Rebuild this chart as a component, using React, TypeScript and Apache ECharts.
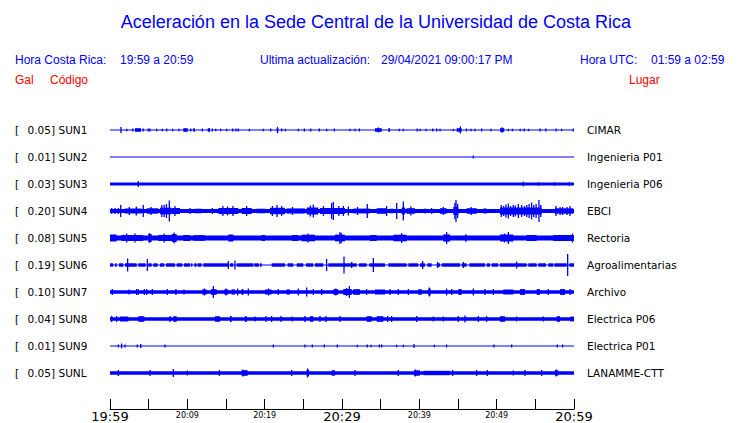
import React, { useEffect, useRef } from "react";
import * as echarts from "echarts";

// ---- data ----
const codes = ["SUN1", "SUN2", "SUN3", "SUN4", "SUN5", "SUN6", "SUN7", "SUN8", "SUN9", "SUNL"];
const peakGal = ["0.05", "0.01", "0.03", "0.20", "0.08", "0.19", "0.10", "0.04", "0.01", "0.05"];
const places = ["CIMAR", "Ingenieria P01", "Ingenieria P06", "EBCI", "Rectoria", "Agroalimentarias", "Archivo", "Electrica P06", "Electrica P01", "LANAMME-CTT"];
const tickLabels = ["19:59", "", "20:09", "", "20:19", "", "20:29", "", "20:39", "", "20:49", "", "20:59"];
const bigTicks = [0, 6, 12];

// background noise half-amplitude per trace
const noiseLevel = [0.6, 0.5, 1.5, 2.0, 2.5, 0.6, 1.8, 1.8, 0.5, 1.8];

// events: [startMinute, endMinute, halfAmplitude]
const sun1 = [[1.42,1.42,3],[2.16,2.16,1.2],[2.94,2.94,1.5],[3.23,4.0,1.8],[4.3,4.3,1.5],[4.95,4.95,1.5],[5.17,5.17,1.5],[6.04,6.04,1.2],[6.76,6.76,1.2],[7.33,7.33,1.5],[8.11,8.11,1.2],[8.92,8.92,1.2],[9.48,10.05,1.8],[10.44,10.44,1.5],[10.77,10.99,1.8],[11.94,11.94,1.5],[12.63,12.93,1.8],[13.23,13.23,1.5],[13.67,13.67,1.2],[14.32,14.32,1.2],[15.09,15.09,1.2],[15.87,15.87,1.5],[16.29,16.29,1.5],[16.59,16.59,1.5],[18.01,18.01,1.2],[19.82,19.82,1.2],[20.78,20.78,1.5],[21.56,21.76,2],[21.66,21.66,3.2],[22.2,22.2,1.5],[22.67,22.67,1.2],[24.35,24.35,1.2],[25.13,25.13,1.5],[25.95,25.95,1.5],[27.07,27.07,1.5],[28.02,28.02,1.2],[29.0,29.0,1.5],[31.04,31.04,1.2],[31.68,31.68,1.2],[32.25,32.25,1.5],[34.27,35.14,1.8],[34.7,34.7,2.5],[35.99,36.21,1.8],[37.4,37.4,1.2],[37.92,37.92,1.2],[39.73,39.73,1.5],[40.09,40.09,1.2],[40.86,40.86,1.2],[41.73,41.73,1.5],[42.25,42.25,1.5],[42.68,42.68,1.2],[44.4,44.4,1.2],[44.83,45.48,1.8],[45.3,45.3,3.5],[46.1,46.1,1.5],[46.68,46.68,1.2],[47.2,47.2,1.2],[48.07,48.07,1.5],[49.27,49.27,1.2],[50.45,50.97,1.9],[50.7,50.7,2.8],[51.52,51.52,1.2],[52.04,52.04,1.2],[53.04,53.04,1.2],[53.56,53.56,1.5],[54.12,54.12,1.2],[55.62,55.62,1.5],[56.36,56.36,1.5],[57.7,57.7,1.5],[58.4,58.4,1.2],[59.91,59.91,1.5]];
const sun2 = [[46.98,46.98,1.5]];
const sun3 = [[3.66,3.66,3],[53.45,53.45,2.2],[55.4,55.4,1.8],[57.5,57.5,1.8],[59.4,59.4,1.8]];
const sun4 = [[0.22,0.22,3],[0.65,0.65,3],[1.08,1.08,3],[1.38,1.38,6],[1.94,4.09,2.4],[2.5,2.5,4],[3.4,3.4,4.5],[4.3,4.3,6],[4.74,6.25,2.7],[5.3,5.3,4],[6.46,7.97,3.3],[6.7,6.7,6],[7.3,7.3,7],[7.67,7.67,10.5],[7.0,7.0,6],[7.97,9.05,3],[8.4,8.4,5],[10.34,10.34,3],[10.99,11.85,2.3],[13.23,13.23,3],[14.01,16.59,3],[14.6,14.6,5],[15.2,15.2,4.5],[15.9,15.9,5],[17.02,18.32,3],[17.67,17.67,5],[18.96,20.04,2.3],[20.69,22.63,3.2],[21.0,21.0,5],[21.6,21.6,6],[22.2,22.2,5],[22.84,25.21,2.6],[23.6,23.6,4],[25.43,26.94,3.5],[26.29,26.29,6.5],[25.9,25.9,5.5],[27.15,30.38,3],[27.6,27.6,5],[28.66,28.66,8],[28.88,28.88,9],[29.6,29.6,5],[30.17,30.17,5],[30.82,30.82,4.5],[31.46,33.62,2.4],[32.0,32.0,4],[33.27,33.27,7],[34.48,35.77,2.8],[35.77,35.77,5],[36.21,36.64,2.3],[37.07,37.07,8],[37.71,38.14,3.5],[37.93,37.93,9.5],[38.36,39.44,2.8],[38.9,38.9,4.5],[40.73,40.73,2.5],[41.59,41.59,3],[42.67,43.53,2.8],[43.1,43.1,4],[44.39,45.04,4],[44.6,44.6,8],[44.74,44.74,11],[44.95,44.95,7],[46.12,47.41,2.8],[46.7,46.7,4],[48.27,48.7,2.5],[50.43,55.82,3.5],[50.6,50.6,6],[50.9,50.9,5],[51.2,51.2,6.5],[51.51,51.51,7.5],[51.8,51.8,5],[52.15,52.15,6],[52.4,52.4,5.5],[52.8,52.8,7],[53.23,53.23,6],[53.6,53.6,5],[53.9,53.9,6],[54.2,54.2,7],[54.52,54.52,8.5],[54.8,54.8,6],[55.1,55.1,7],[55.47,55.47,11],[55.7,55.7,6],[57.54,59.91,2.7],[57.67,57.67,5],[58.2,58.2,4],[58.53,58.53,4],[59.1,59.1,4],[59.48,59.48,5]];
const sun5 = [[0,0.86,3.5],[1.5,4.31,3.0],[2.15,2.15,4.5],[3.23,3.23,4.5],[4.96,5.39,4],[5.1,5.1,5],[6.25,7.97,3.0],[7.0,7.0,4.5],[7.97,8.62,4],[8.3,8.3,5.5],[9.48,10.34,3.0],[10.77,12.28,2.8],[15.3,15.95,3.5],[19.61,20.04,3.0],[23.49,24.35,3.0],[24.78,26.51,3.3],[25.6,25.6,4.5],[29.09,30.38,3.4],[29.74,29.74,6],[29.9,29.9,5],[33.62,34.48,3.0],[36.64,38.36,3.3],[37.71,37.71,5],[43.1,43.96,3.6],[43.53,43.53,6],[45.9,46.12,3.6],[50.43,52.15,3.4],[51.51,51.51,6],[51.0,51.0,4.5],[53.88,55.17,3.0],[57.32,60,3.0],[59.8,59.8,4.5]];
const sun6 = [[0,0.43,1.7],[0.65,0.86,1.7],[1.16,1.72,1.7],[1.94,3.45,1.7],[3.66,4.61,1.7],[4.96,5.39,1.7],[5.6,6.16,1.7],[6.46,7.02,1.7],[7.24,8.4,1.7],[8.62,9.35,1.7],[9.57,10.34,1.7],[10.47,10.65,1.7],[10.9,11.21,1.7],[11.33,11.85,1.7],[12.07,15.3,1.7],[15.52,15.95,1.7],[16.38,18.53,1.7],[18.66,19.26,1.7],[19.39,19.61,1.7],[20.9,22.63,1.7],[22.97,23.7,1.7],[24.14,24.99,1.7],[25.34,26.29,1.7],[26.51,27.58,1.7],[28.23,29.74,1.7],[29.74,31.9,1.7],[32.2,33.19,1.7],[33.53,35.56,1.7],[35.99,38.36,1.7],[38.58,39.87,1.7],[40.08,40.73,1.7],[41.03,41.59,1.7],[42.24,42.67,1.7],[42.89,45.26,1.7],[45.47,46.12,1.7],[46.46,48.49,1.7],[48.7,49.14,1.7],[49.35,50.21,1.7],[50.43,53.88,1.7],[54.09,55.17,1.7],[55.38,56.38,1.7],[56.68,57.32,1.7],[57.45,59.05,1.7],[59.39,60,1.7],[2.28,2.28,6.5],[4.83,4.83,6],[15.3,15.3,4],[16.16,16.16,4.5],[28.01,28.01,6],[30.26,30.26,8.5],[31.25,31.25,3],[34.05,34.05,7],[40.43,40.43,4],[42.37,42.37,3],[45.69,45.69,3],[52.58,52.58,3.5],[59.18,59.18,11]];
const sun7 = [[0.3,0.3,3],[2.45,2.45,2.5],[3.45,3.45,3],[3.66,3.66,3],[4.44,4.44,3],[4.74,4.74,3],[5.47,5.47,3],[7.41,7.41,3],[8.53,8.53,3],[9.57,9.57,2.5],[11.94,12.5,2.6],[12.2,12.2,3.5],[13.06,13.79,2.8],[13.36,13.36,6],[14.78,15.3,2.6],[15.0,15.0,3.5],[15.73,16.16,2.6],[16.5,16.5,3.5],[17.02,17.24,3.0],[17.89,17.89,3.5],[20.04,20.9,2.5],[20.5,20.5,3.5],[21.76,21.76,3],[22.84,23.27,2.6],[24.35,24.35,3.5],[25.43,25.43,4.5],[26.29,26.29,3],[27.37,27.37,3],[28.88,29.52,2.8],[29.2,29.2,3.5],[30.17,31.25,3.0],[30.95,30.95,6],[30.6,30.6,4],[31.46,32.33,2.8],[33.19,33.19,3],[34.27,35.56,2.5],[36.21,36.21,3],[37.28,37.28,3],[38.58,38.58,3],[39.87,40.3,2.8],[41.16,41.46,3.5],[41.3,41.3,4.5],[43.53,43.53,3.5],[44.18,44.18,3],[45.04,45.47,2.9],[46.98,46.98,3.5],[48.49,48.49,3],[49.57,49.57,3],[50.86,52.15,2.5],[53.01,53.66,2.9],[55.17,55.6,2.9],[56.68,56.68,3],[58.19,58.83,2.9],[59.48,59.48,3]];
const sun8 = [[0.22,0.22,3],[0.86,0.86,3],[1.29,2.37,2.6],[3.66,4.44,2.8],[7.76,7.76,3],[8.19,8.62,2.8],[13.58,14.22,2.8],[15.52,15.73,3],[17.45,17.67,3.0],[18.75,18.75,2.5],[20.17,20.17,3],[20.9,20.9,3],[22.11,22.11,3],[23.58,23.58,2.5],[25.21,25.21,3],[25.86,26.29,2.8],[27.15,27.15,3],[27.93,27.93,3],[29.74,29.74,3],[33.19,33.84,2.8],[34.48,35.34,2.8],[35.9,35.9,3],[36.42,36.42,3],[39.65,39.65,3],[41.81,41.81,2.5],[43.1,43.1,2.5],[45.04,45.04,3],[45.9,45.9,3.5],[47.63,47.63,3],[48.7,48.7,3],[50.43,51.07,2.8],[52.58,52.58,2.5],[56.03,56.03,2.5],[57.76,58.19,2.8],[59.5,60,2.4]];
const sun9 = [[1.08,1.08,1.5],[1.5,1.5,2.5],[1.94,1.94,1.5],[3.53,3.53,1.5],[3.97,3.97,2],[7.11,7.11,1.5],[21.12,21.12,1.5],[25.21,25.21,1.5],[26.16,26.16,1.5],[27.71,27.71,1.5],[29.39,29.39,1.5],[31.98,31.98,1.2],[33.27,33.27,1.5],[33.75,33.75,1.2],[34.83,34.83,1.5],[35.13,35.13,1.5],[37.07,37.07,1.2],[37.93,37.93,1.2],[39.31,39.31,2],[41.94,41.94,1.2],[43.53,43.53,1.5],[49.65,49.65,1.5],[51.94,51.94,1.5],[57.84,57.84,1.5],[58.53,58.53,1.5]];
const sunL = [[1.08,1.08,3],[5.17,5.17,3],[8.19,8.19,4],[10.0,10.0,2.5],[14.14,14.14,3],[17.02,17.8,2.8],[17.2,17.2,3.5],[23.49,23.49,3],[25.43,25.73,3.3],[25.55,25.55,4.5],[28.66,29.09,2.7],[31.68,31.68,3],[37.28,37.28,3],[39.31,40.08,2.7],[39.5,39.5,3.5],[40.52,43.96,2.2],[44.31,44.31,3],[47.41,47.41,3],[48.79,48.79,3],[52.15,52.15,2.5],[53.66,53.66,3],[55.82,55.82,3],[57.54,57.97,2.7],[57.7,57.7,3.5]];
const traceEvents = [sun1, sun2, sun3, sun4, sun5, sun6, sun7, sun8, sun9, sunL];

const BLUE = "#0000ff";
const RED = "#ff0000";
const GAP = 27;
const GRID_TOP = 103;
const GRID_BOTTOM = 14;
const GRID_LEFT = 110;
const GRID_RIGHT = 166;

export default function App() {
  const ref = useRef<HTMLDivElement>(null);
  useEffect(() => {
    document.body.style.margin = "0";
    const chart = echarts.init(ref.current!, null, { renderer: "svg" });
    const data: number[][] = [];
    traceEvents.forEach((evs, i) => {
      data.push([0, 60, noiseLevel[i], i]);
      evs.forEach((e) => data.push([e[0], e[1], e[2], i]));
    });
    const yMax = 423 - GRID_TOP - GRID_BOTTOM;
    const sans = "'Liberation Sans', Arial, sans-serif";
    const dv = "'DejaVu Sans', sans-serif";
    const graphics: any[] = [];
    const hdr = (text: string, x: number, y: number, fill: string, size = 12, align = "left") => ({
      type: "text",
      style: { text, x, y, fill, font: `${size}px ${sans}`, align, verticalAlign: "middle" },
    });
    graphics.push(hdr("Aceleración en la Sede Central de la Universidad de Costa Rica", 376, 22, BLUE, 18, "center"));
    graphics.push(hdr("Hora Costa Rica:", 15, 60, BLUE));
    graphics.push(hdr("19:59 a 20:59", 120, 60, BLUE));
    graphics.push(hdr("Ultima actualización:", 260, 60, BLUE));
    graphics.push(hdr("29/04/2021 09:00:17 PM", 381, 60, BLUE));
    graphics.push(hdr("Hora UTC:", 580, 60, BLUE));
    graphics.push(hdr("01:59 a 02:59", 651, 60, BLUE));
    graphics.push(hdr("Gal", 15, 80, RED));
    graphics.push(hdr("Código", 50, 80, RED));
    graphics.push(hdr("Lugar", 629, 80, RED));
    codes.forEach((c, i) => {
      const y = GRID_TOP + (i + 1) * GAP;
      const st = (text: string, x: number) => ({
        type: "text",
        style: { text, x, y, fill: "#000", font: `10.5px ${dv}`, align: "left", verticalAlign: "middle" },
      });
      graphics.push(st("[", 15));
      graphics.push(st(peakGal[i] + "]", 27.5));
      graphics.push(st(c, 58.5));
      graphics.push(st(places[i], 587));
    });

    chart.setOption({
      animation: false,
      grid: { left: GRID_LEFT, right: GRID_RIGHT, top: GRID_TOP, bottom: GRID_BOTTOM, containLabel: false },
      xAxis: {
        type: "value",
        min: 0,
        max: 60,
        interval: 5,
        splitLine: { show: false },
        axisLine: { show: true, onZero: false, lineStyle: { color: "#000", width: 1 } },
        axisTick: { show: true, inside: true, length: 10, lineStyle: { color: "#000", width: 1 } },
        axisLabel: {
          margin: 1,
          showMinLabel: true,
          showMaxLabel: true,
          hideOverlap: false,
          formatter: (v: number) => {
            const i = Math.round(v / 5);
            const l = tickLabels[i];
            if (!l) return "";
            return bigTicks.includes(i) ? `{big|${l}}` : `{small|${l}}`;
          },
          rich: {
            big: { fontSize: 13, fontFamily: dv, color: "#000", lineHeight: 13 },
            small: { fontSize: 8, fontFamily: dv, color: "#000", lineHeight: 10 },
          },
        },
      },
      yAxis: { type: "value", inverse: true, min: 0, max: yMax, show: false },
      series: [
        {
          type: "custom",
          clip: false,
          data,
          renderItem: (params: any, api: any) => {
            const s = api.value(0), e = api.value(1), a = api.value(2), idx = api.value(3);
            const c = (idx + 1) * GAP;
            const p1 = api.coord([s, c - a]);
            const p2 = api.coord([e, c + a]);
            let w = Math.abs(p2[0] - p1[0]);
            let x = Math.min(p1[0], p2[0]);
            if (w < 1.3) { x = p1[0] - 0.65; w = 1.3; }
            const y = Math.min(p1[1], p2[1]);
            const h = Math.max(Math.abs(p2[1] - p1[1]), 1);
            return { type: "rect", shape: { x, y, width: w, height: h }, style: { fill: BLUE } };
          },
        },
      ],
      graphic: graphics,
    });
    return () => chart.dispose();
  }, []);
  return <div ref={ref} style={{ width: 740, height: 423 }} />;
}
